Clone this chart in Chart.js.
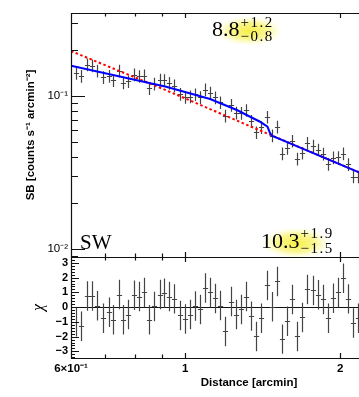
<!DOCTYPE html>
<html>
<head>
<meta charset="utf-8">
<script src="https://cdn.jsdelivr.net/npm/chart.js@4.4.1/dist/chart.umd.min.js"></script>
<style>
html, body { margin: 0; padding: 0; background: #fff; overflow: hidden; }
#wrap { position: relative; width: 359px; height: 397px; overflow: hidden; }
#sbChart { position: absolute; left: 0; top: 0; }
#chiChart { position: absolute; left: 0; top: 250px; }
</style>
</head>
<body>
<div id="wrap">
  <canvas id="sbChart" width="427" height="260"></canvas>
  <canvas id="chiChart" width="427" height="147"></canvas>
</div>
<script>
// Profil de brilho superficial (SW)
const distance = [0.6143, 0.6267, 0.6443, 0.6597, 0.6746, 0.6920, 0.7096, 0.7256, 0.7433, 0.7587,
    0.7759, 0.7948, 0.8127, 0.8311, 0.8522, 0.8716, 0.8916, 0.9116, 0.9322, 0.9533,
    0.9779, 1.0000, 1.0226, 1.0471, 1.0708, 1.0950, 1.1197, 1.1450, 1.1709, 1.1975,
    1.2267, 1.2544, 1.2828, 1.3135, 1.3432, 1.3753, 1.4064, 1.4408, 1.4734, 1.5067,
    1.5408, 1.5777, 1.6134, 1.6521, 1.6894, 1.7276, 1.7698, 1.8098, 1.8507, 1.8951,
    1.9379, 1.9817, 2.0292, 2.0751, 2.1220, 2.1699];
const surfBright = [0.1411, 0.1351, 0.1606, 0.1580, 0.1461, 0.1323, 0.1349, 0.1265, 0.1461, 0.1221,
    0.1244, 0.1380, 0.1347, 0.1361, 0.1121, 0.1201, 0.1276, 0.1266, 0.1214, 0.1171,
    0.1029, 0.0985, 0.0991, 0.1023, 0.0981, 0.1101, 0.1049, 0.0978, 0.0907, 0.0743,
    0.0872, 0.0777, 0.0774, 0.0808, 0.0687, 0.0578, 0.0624, 0.0729, 0.0551, 0.0629,
    0.0420, 0.0456, 0.0509, 0.0388, 0.0424, 0.0492, 0.0472, 0.0446, 0.0419, 0.0359,
    0.0396, 0.0398, 0.0421, 0.0358, 0.0297, 0.0297];
const surfBrightErr = [0.0134, 0.0128, 0.0153, 0.0150, 0.0139, 0.0126, 0.0128, 0.0120, 0.0139, 0.0116,
    0.0118, 0.0131, 0.0128, 0.0129, 0.0106, 0.0114, 0.0121, 0.0120, 0.0115, 0.0111,
    0.0098, 0.0094, 0.0094, 0.0097, 0.0093, 0.0105, 0.0100, 0.0093, 0.0086, 0.0071,
    0.0083, 0.0074, 0.0074, 0.0077, 0.0065, 0.0055, 0.0059, 0.0069, 0.0052, 0.0060,
    0.0040, 0.0043, 0.0048, 0.0037, 0.0040, 0.0047, 0.0045, 0.0042, 0.0040, 0.0034,
    0.0038, 0.0038, 0.0040, 0.0034, 0.0028, 0.0028];
// residuos (chi)
const chi = [-1.0, -1.3, 0.75, 0.75, 0.1, -0.75, -0.35, -0.85, 0.85, -0.85,
    -0.5, 0.8, 0.72, 1.0, -0.85, 0.05, 0.85, 0.95, 0.72, 0.56,
    -0.56, -0.8, -0.5, 0.07, -0.16, 1.29, 1.0, 0.59, 0.11, -1.65,
    0.38, -0.5, -0.16, 0.72, -0.61, -1.99, -0.75, 1.47, 0.02, 1.74,
    -2.17, -0.95, 0.52, -1.99, -0.7, 1.2, 1.13, 0.84, 0.52, -0.75,
    0.61, 1.0, 1.96, 0.56, -1.08, -0.75];
const chiErr = 1;

// modelo com descontinuidade (azul) e lei de potencia (vermelho)
const modelDist = [0.6, 0.9186, 1.118, 1.260, 1.337, 1.398, 1.430, 1.445, 1.454, 1.462, 1.477, 2.177, 2.3];
const modelSB = [0.1580, 0.1150, 0.0956, 0.0810, 0.0732, 0.0679, 0.0646, 0.0630, 0.0599, 0.0571, 0.0548, 0.0317, 0.0293];
const powerDist = [0.6, 0.9186, 1.398, 2.177, 2.3];
const powerSB = [0.1966, 0.1090, 0.0595, 0.0317, 0.0293];

// eixos
const xTicks = [0.7, 0.8, 0.9, 1, 2];
const xMajor = [1, 2];
const sbTicks = [0.01, 0.1];
const sbMinor = [0.009, 0.02, 0.03, 0.04, 0.05, 0.06, 0.07, 0.08, 0.09, 0.2, 0.3];
const chiTicks = [-3, -2, -1, 0, 1, 2, 3];
const chiMinor = [];
for (let v = -3.4; v <= 3.4; v += 0.2) chiMinor.push(Math.round(v * 10) / 10);

const sans = '"Liberation Sans", Arial, sans-serif';
const serif = '"Liberation Serif", "Times New Roman", serif';

function pts(xs, ys) {
    return xs.map((x, i) => ({ x: x, y: ys[i] }));
}

function drawErrorBars(chart, ys, lo, hi) {
    const { ctx, chartArea: a, scales: { x, y } } = chart;
    ctx.save();
    ctx.beginPath();
    ctx.rect(a.left, a.top, a.right - a.left, a.bottom - a.top);
    ctx.clip();
    ctx.strokeStyle = '#444';
    ctx.lineWidth = 1.2;
    ctx.beginPath();
    distance.forEach((d, i) => {
        const px = Math.round(x.getPixelForValue(d)) + 0.5;
        const py = Math.round(y.getPixelForValue(ys[i])) + 0.5;
        ctx.moveTo(px - 2.6, py);
        ctx.lineTo(px + 2.6, py);
        ctx.moveTo(px, y.getPixelForValue(lo[i]));
        ctx.lineTo(px, y.getPixelForValue(hi[i]));
    });
    ctx.stroke();
    ctx.restore();
}

function drawFrame(chart, yMajor, yMinor, majLen, minLen) {
    const { ctx, chartArea: a, scales: { x, y } } = chart;
    ctx.save();
    ctx.strokeStyle = '#111';
    ctx.lineWidth = 1.2;
    ctx.beginPath();
    ctx.moveTo(a.left + 0.5, a.top);
    ctx.lineTo(a.left + 0.5, a.bottom + 1);
    ctx.moveTo(a.left, a.top + 0.5);
    ctx.lineTo(a.right, a.top + 0.5);
    ctx.moveTo(a.left, a.bottom + 0.5);
    ctx.lineTo(a.right, a.bottom + 0.5);
    xTicks.forEach(v => {
        const len = xMajor.includes(v) ? 5 : 3.5;
        const px = Math.round(x.getPixelForValue(v)) + 0.5;
        ctx.moveTo(px, a.top);
        ctx.lineTo(px, a.top + len);
        ctx.moveTo(px, a.bottom);
        ctx.lineTo(px, a.bottom - len);
    });
    yMajor.forEach(v => {
        const py = Math.round(y.getPixelForValue(v)) + 0.5;
        ctx.moveTo(a.left, py);
        ctx.lineTo(a.left + majLen, py);
    });
    yMinor.forEach(v => {
        const py = y.getPixelForValue(v);
        if (py < a.top || py > a.bottom) return;
        ctx.moveTo(a.left, Math.round(py) + 0.5);
        ctx.lineTo(a.left + minLen, Math.round(py) + 0.5);
    });
    ctx.stroke();
    ctx.restore();
}

function glow(ctx, cx, cy, rx, ry) {
    ctx.save();
    ctx.translate(cx, cy);
    ctx.scale(1, ry / rx);
    const g = ctx.createRadialGradient(0, 0, 0, 0, 0, rx);
    g.addColorStop(0, 'rgba(246, 238, 60, 0.95)');
    g.addColorStop(0.55, 'rgba(248, 242, 100, 0.7)');
    g.addColorStop(1, 'rgba(255, 255, 190, 0)');
    ctx.fillStyle = g;
    ctx.fillRect(-rx, -rx, 2 * rx, 2 * rx);
    ctx.restore();
}

function scripted(ctx, main, sup, sub, x, base, supBase, subBase) {
    ctx.font = '22px ' + serif;
    ctx.fillText(main, x, base);
    const w = ctx.measureText(main).width;
    ctx.font = '15px ' + serif;
    ctx.letterSpacing = '1.5px';
    ctx.fillText(sup, x + w + 1, supBase);
    ctx.fillText(sub, x + w + 1, subBase);
    ctx.letterSpacing = '0px';
}

const sbPlugin = {
    id: 'sbPanel',
    beforeDatasetsDraw(chart) {
        const ctx = chart.ctx;
        glow(ctx, 249, 31, 34, 15);
        glow(ctx, 296, 243, 35, 16);
        const lo = surfBright.map((v, i) => v - surfBrightErr[i]);
        const hi = surfBright.map((v, i) => v + surfBrightErr[i]);
        drawErrorBars(chart, surfBright, lo, hi);
    },
    afterDatasetsDraw(chart) {
        drawFrame(chart, sbTicks, sbMinor, 14, 7);
        const ctx = chart.ctx;
        ctx.save();
        ctx.fillStyle = '#000';
        ctx.textBaseline = 'alphabetic';
        scripted(ctx, '8.8', '+1.2', '\u22120.8', 212, 36, 26.7, 41);
        scripted(ctx, '10.3', '+1.9', '\u22121.5', 261, 248.3, 237.7, 252.5);
        ctx.font = '21px ' + serif;
        ctx.fillText('SW', 80, 249);
        ctx.restore();
    }
};

const chiPlugin = {
    id: 'chiPanel',
    beforeDatasetsDraw(chart) {
        const { ctx, chartArea: a, scales: { y } } = chart;
        ctx.save();
        ctx.strokeStyle = '#111';
        ctx.lineWidth = 1.2;
        const py = Math.round(y.getPixelForValue(0)) + 0.5;
        ctx.beginPath();
        ctx.moveTo(a.left, py);
        ctx.lineTo(a.right, py);
        ctx.stroke();
        ctx.restore();
        drawErrorBars(chart, chi, chi.map(v => v - chiErr), chi.map(v => v + chiErr));
    },
    afterDatasetsDraw(chart) {
        drawFrame(chart, chiTicks, chiMinor, 8, 4);
    }
};

const xLimits = { min: 0.6, max: 2.95 };

const sbChart = new Chart(document.getElementById('sbChart'), {
    type: 'scatter',
    data: {
        datasets: [
            { data: pts(distance, surfBright), pointRadius: 0, showLine: false },
            { data: pts(modelDist, modelSB), showLine: true, borderColor: '#0000ff', borderWidth: 2, pointRadius: 0, tension: 0 },
            { data: pts(powerDist, powerSB), showLine: true, borderColor: '#ff0000', borderWidth: 2, borderDash: [2.5, 2.5], pointRadius: 0, tension: 0 }
        ]
    },
    options: {
        responsive: false,
        animation: false,
        layout: { padding: { top: 13, bottom: 3, left: 0, right: 0 } },
        plugins: { legend: { display: false }, tooltip: { enabled: false } },
        scales: {
            x: { type: 'logarithmic', min: xLimits.min, max: xLimits.max, display: false },
            y: {
                type: 'logarithmic', min: 0.00887, max: 0.3487,
                grid: { display: false, drawTicks: false },
                border: { display: false },
                afterBuildTicks: s => { s.ticks = sbTicks.map(v => ({ value: v })); },
                afterFit: s => { s.width = 71; s.paddingTop = 0; s.paddingBottom = 0; },
                ticks: {
                    padding: 3, color: '#000',
                    font: { family: sans, size: 11.5 },
                    callback: v => v === 0.1 ? '10\u207B\u00B9' : (v === 0.01 ? '10\u207B\u00B2' : '')
                },
                title: {
                    display: true, text: 'SB [counts s\u207B\u00B9 arcmin\u207B\u00B2]', color: '#000',
                    font: { family: sans, size: 11.5, weight: 'bold' },
                    padding: { top: 24, bottom: 0 }
                }
            }
        }
    },
    plugins: [sbPlugin]
});

const chiChart = new Chart(document.getElementById('chiChart'), {
    type: 'scatter',
    data: {
        datasets: [
            { data: pts(distance, chi), pointRadius: 0, showLine: false }
        ]
    },
    options: {
        responsive: false,
        animation: false,
        layout: { padding: { top: 7, bottom: 0, left: 0, right: 0 } },
        plugins: { legend: { display: false }, tooltip: { enabled: false } },
        scales: {
            x: {
                type: 'logarithmic', min: xLimits.min, max: xLimits.max,
                grid: { display: false, drawTicks: false },
                border: { display: false },
                afterBuildTicks: s => { s.ticks = [0.6].concat(xTicks).map(v => ({ value: v })); },
                afterFit: s => { s.height = 39; s.paddingLeft = 0; s.paddingRight = 0; },
                ticks: {
                    padding: 4, color: '#000', autoSkip: false, maxRotation: 0,
                    font: { family: sans, size: 11.5, weight: 'bold' },
                    callback: v => v === 0.6 ? '6\u00D710\u207B\u00B9' : (v === 1 ? '1' : (v === 2 ? '2' : ''))
                },
                title: {
                    display: true, text: 'Distance [arcmin]', color: '#000',
                    font: { family: sans, size: 11.5, weight: 'bold' },
                    padding: { top: 0, bottom: 7.6 }
                }
            },
            y: {
                min: -3.45, max: 3.4,
                grid: { display: false, drawTicks: false },
                border: { display: false },
                afterBuildTicks: s => { s.ticks = chiTicks.map(v => ({ value: v })); },
                afterFit: s => { s.width = 71; s.paddingTop = 0; s.paddingBottom = 0; },
                ticks: {
                    padding: 3, color: '#000',
                    font: { family: sans, size: 11, weight: 'bold' },
                    callback: v => String(v).replace('-', '\u2212')
                },
                title: {
                    display: true, text: '\u03C7', color: '#000',
                    font: { family: serif, size: 16, style: 'italic' },
                    padding: { top: 29, bottom: 0 }
                }
            }
        }
    },
    plugins: [chiPlugin]
});
</script>
</body>
</html>
